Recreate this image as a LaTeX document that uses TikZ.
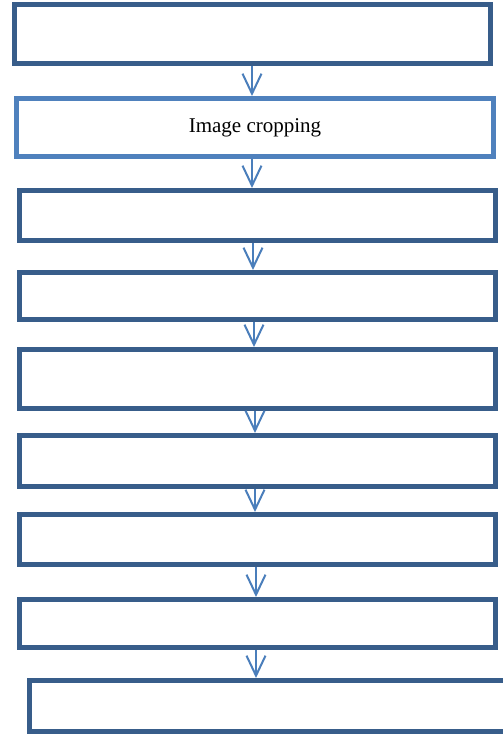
\documentclass[tikz,border=0pt]{standalone}
\usepackage{fontspec}
\setmainfont{Liberation Serif}
\usetikzlibrary{arrows.meta}
\definecolor{darkb}{HTML}{385D8A}
\definecolor{lightb}{HTML}{4F81BD}
\definecolor{arrb}{HTML}{4A7EBB}
\begin{document}
\begin{tikzpicture}[x=1pt,y=-1pt,
  stepbox/.style={draw=darkb,line width=5pt,fill=white,minimum width=476pt,inner sep=0pt,anchor=center},
  arr/.style={draw=arrb,line width=2pt,-{Straight Barb[length=20pt,width=19pt,line width=2pt]}}]
\useasboundingbox (0,0) rectangle (503,734);
\clip (0,0) rectangle (503,734);
\node[stepbox,minimum height=58.5pt] (b1) at (252.5,33.75) {};
\node[stepbox,draw=lightb,minimum width=477pt,minimum height=58pt,font=\fontsize{21}{25}\selectfont] (b2) at (255,127.5) {Image cropping};
\node[stepbox,minimum height=50pt] (b3) at (257.5,215.5) {};
\node[stepbox,minimum height=47pt] (b4) at (257.5,296) {};
\node[stepbox,minimum height=59pt] (b5) at (257.5,379) {};
\node[stepbox,minimum height=51pt] (b6) at (257.5,461) {};
\node[stepbox,minimum height=50pt] (b7) at (257.5,539.5) {};
\node[stepbox,minimum height=48pt] (b8) at (257.5,623.5) {};
\node[stepbox,minimum width=477pt,minimum height=51pt] (b9) at (268,706) {};
\coordinate (x1) at (252,0);
\coordinate (x2) at (252,0);
\coordinate (x3) at (253,0);
\coordinate (x4) at (254,0);
\coordinate (x5) at (255,0);
\coordinate (x6) at (255,0);
\coordinate (x7) at (256,0);
\coordinate (x8) at (256,0);
\draw[arr] (b1.south -| x1) -- (b2.north -| x1);
\draw[arr] (b2.south -| x2) -- (b3.north -| x2);
\draw[arr] (b3.south -| x3) -- (b4.north -| x3);
\draw[arr] (b4.south -| x4) -- (b5.north -| x4);
\draw[arr] (b5.south -| x5) -- (b6.north -| x5);
\draw[arr] (b6.south -| x6) -- (b7.north -| x6);
\draw[arr] (b7.south -| x7) -- (b8.north -| x7);
\draw[arr] (b8.south -| x8) -- (b9.north -| x8);
\end{tikzpicture}
\end{document}
